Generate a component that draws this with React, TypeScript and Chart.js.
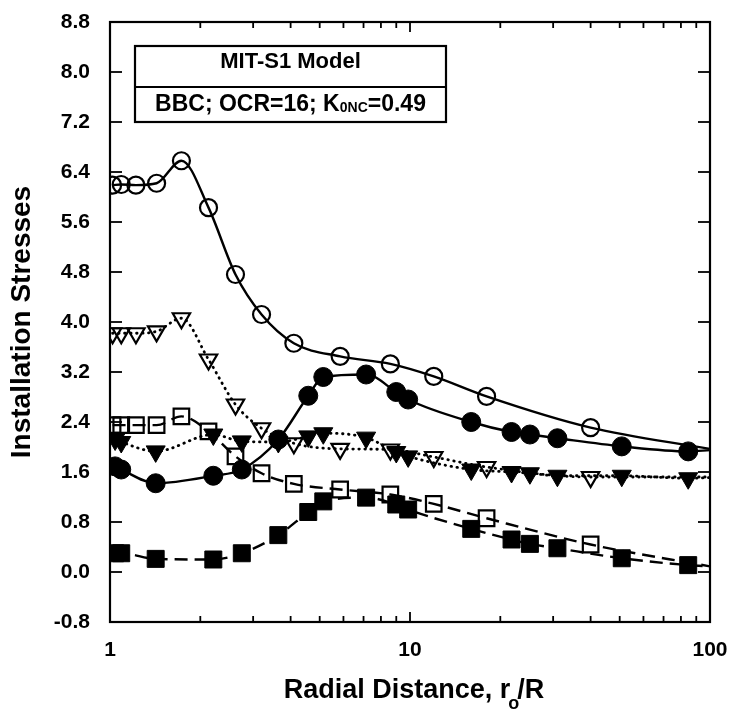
import React, { useEffect, useRef } from 'react';
import { Chart, registerables } from 'chart.js';

Chart.register(...registerables);

// ---- data ----
const openX = [1.02, 1.09, 1.22, 1.43, 1.73, 2.13, 2.62, 3.2, 4.1, 5.85, 8.6, 12, 18, 40];
const openCircleY = [6.19, 6.2, 6.19, 6.22, 6.58, 5.83, 4.76, 4.12, 3.66, 3.45, 3.33, 3.13, 2.81, 2.31];
const openTriangleY = [3.82, 3.82, 3.82, 3.85, 4.06, 3.4, 2.68, 2.3, 2.06, 1.97, 1.96, 1.84, 1.68, 1.52];
const openSquareY = [2.35, 2.35, 2.35, 2.35, 2.49, 2.25, 1.85, 1.58, 1.41, 1.32, 1.24, 1.09, 0.86, 0.44];

const filledX = [1.04, 1.09, 1.42, 2.21, 2.75, 3.64, 4.58, 5.14, 7.14, 9.0, 9.86, 16, 21.8, 25.1, 31, 50.8, 84.6];
const filledCircleY = [1.69, 1.64, 1.42, 1.54, 1.64, 2.12, 2.82, 3.12, 3.16, 2.88, 2.76, 2.4, 2.24, 2.2, 2.14, 2.01, 1.93];
const filledTriangleY = [2.12, 2.08, 1.93, 2.2, 2.09, 2.08, 2.17, 2.22, 2.15, 1.92, 1.85, 1.64, 1.6, 1.58, 1.54, 1.54, 1.5];
const filledSquareY = [0.3, 0.3, 0.21, 0.2, 0.3, 0.59, 0.96, 1.13, 1.19, 1.08, 1.0, 0.69, 0.52, 0.45, 0.38, 0.22, 0.11];

// curve end values at the right border (x = 100)
const curveEndX = 100;
const openCircleEnd = 1.97;
const filledCircleEnd = 1.95;
const openTriangleEnd = 1.52;
const filledTriangleEnd = 1.51;
const openSquareEnd = 0.09;
const filledSquareEnd = 0.09;

const yTickValues = [-0.8, 0, 0.8, 1.6, 2.4, 3.2, 4.0, 4.8, 5.6, 6.4, 7.2, 8.0, 8.8];
const xTickValues = [1, 2, 3, 4, 5, 6, 7, 8, 9, 10, 20, 30, 40, 50, 60, 70, 80, 90, 100];
const xLabelValues = [1, 10, 100];

const yTitle = 'Installation Stresses';
const xTitleMain = 'Radial Distance, r';
const xTitleSub = 'o';
const xTitleEnd = '/R';
const boxLine1 = 'MIT-S1 Model';
const boxLine2a = 'BBC; OCR=16; K';
const boxLine2Sub = '0NC';
const boxLine2b = '=0.49';

const FONT = '"Liberation Sans", Arial, Helvetica, sans-serif';

function pts(xs: number[], ys: number[]) {
  return xs.map((x, i) => ({ x, y: ys[i] }));
}

function curve(xs: number[], ys: number[], endY: number) {
  return [...pts(xs, ys), { x: curveEndX, y: endY }];
}

const decorPlugin = {
  id: 'decor',
  afterDraw(chart: any) {
    const { ctx, chartArea: a, scales } = chart;
    const xs = scales.x;
    const ys = scales.y;
    ctx.save();
    ctx.strokeStyle = '#000';
    ctx.fillStyle = '#000';
    const seg = (x1: number, y1: number, x2: number, y2: number) => {
      ctx.beginPath();
      ctx.moveTo(x1, y1);
      ctx.lineTo(x2, y2);
      ctx.stroke();
    };
    // frame
    ctx.lineWidth = 2.2;
    ctx.strokeRect(a.left, a.top, a.right - a.left, a.bottom - a.top);
    // ticks (inward)
    ctx.lineWidth = 1.8;
    xTickValues.forEach((v) => {
      const px = xs.getPixelForValue(v);
      const len = xLabelValues.includes(v) ? 10 : 6;
      seg(px, a.bottom, px, a.bottom - len);
      seg(px, a.top, px, a.top + len);
    });
    yTickValues.forEach((v) => {
      const py = ys.getPixelForValue(v);
      seg(a.left, py, a.left + 12, py);
      seg(a.right, py, a.right - 12, py);
    });

    // y title
    ctx.save();
    ctx.translate(22, (a.top + a.bottom) / 2);
    ctx.rotate(-Math.PI / 2);
    ctx.font = `bold 28px ${FONT}`;
    ctx.textAlign = 'center';
    ctx.textBaseline = 'middle';
    ctx.fillText(yTitle, 0, 0);
    ctx.restore();

    // x title with subscript
    const big = `bold 27px ${FONT}`;
    const small = `bold 18px ${FONT}`;
    ctx.textAlign = 'left';
    ctx.textBaseline = 'alphabetic';
    ctx.font = big;
    const w1 = ctx.measureText(xTitleMain).width;
    const w3 = ctx.measureText(xTitleEnd).width;
    ctx.font = small;
    const w2 = ctx.measureText(xTitleSub).width;
    const total = w1 + w2 + w3 - 4;
    const cx = (a.left + a.right) / 2 + 4;
    let tx = cx - total / 2;
    const base = a.bottom + 76;
    ctx.font = big;
    ctx.fillText(xTitleMain, tx, base);
    tx += w1 - 2;
    ctx.font = small;
    ctx.fillText(xTitleSub, tx, base + 11);
    tx += w2 - 2;
    ctx.font = big;
    ctx.fillText(xTitleEnd, tx, base);

    // annotation box
    const bl = a.left + 25;
    const br = a.left + 336;
    const bt = a.top + 24;
    const bm = a.top + 65;
    const bb = a.top + 100;
    ctx.lineWidth = 2.2;
    ctx.strokeRect(bl, bt, br - bl, bb - bt);
    seg(bl, bm, br, bm);
    const bcx = (bl + br) / 2;
    ctx.font = `bold 22px ${FONT}`;
    ctx.textAlign = 'center';
    ctx.fillText(boxLine1, bcx, bm - 19);
    ctx.textAlign = 'left';
    const f2 = `bold 23px ${FONT}`;
    const fs = `bold 14px ${FONT}`;
    ctx.font = f2;
    const a1 = ctx.measureText(boxLine2a).width;
    const a3 = ctx.measureText(boxLine2b).width;
    ctx.font = fs;
    const a2 = ctx.measureText(boxLine2Sub).width;
    let lx = bcx - (a1 + a2 + a3) / 2;
    const lb = bb - 11;
    ctx.font = f2;
    ctx.fillText(boxLine2a, lx, lb);
    lx += a1;
    ctx.font = fs;
    ctx.fillText(boxLine2Sub, lx, lb + 1);
    lx += a2;
    ctx.font = f2;
    ctx.fillText(boxLine2b, lx, lb);
    ctx.restore();
  },
};

export default function App() {
  const ref = useRef<HTMLCanvasElement | null>(null);
  useEffect(() => {
    if (!ref.current) return;
    const lineBase = {
      showLine: true,
      pointRadius: 0,
      pointHoverRadius: 0,
      borderColor: '#000',
      backgroundColor: '#000',
      fill: false,
      cubicInterpolationMode: 'monotone' as const,
    };
    const solid = { ...lineBase, borderWidth: 2.4 };
    const dotted = { ...lineBase, borderWidth: 2.8, borderDash: [0.5, 5.5], borderCapStyle: 'round' as const };
    const dashed = { ...lineBase, borderWidth: 2.4, borderDash: [13, 7] };
    const mark = (style: string, radius: number, filled: boolean, rot = 0) => ({
      showLine: false,
      pointStyle: style,
      pointRadius: radius,
      pointHoverRadius: radius,
      pointRotation: rot,
      pointBorderWidth: filled ? 1 : 2.2,
      pointBorderColor: '#000',
      pointBackgroundColor: filled ? '#000' : 'rgba(0,0,0,0)',
    });

    const chart = new Chart(ref.current, {
      type: 'scatter',
      data: {
        datasets: [
          { ...solid, data: curve(openX, openCircleY, openCircleEnd) },
          { ...solid, data: curve(filledX, filledCircleY, filledCircleEnd) },
          { ...dotted, data: curve(openX, openTriangleY, openTriangleEnd) },
          { ...dotted, data: curve(filledX, filledTriangleY, filledTriangleEnd) },
          { ...dashed, data: curve(openX, openSquareY, openSquareEnd) },
          { ...dashed, data: curve(filledX, filledSquareY, filledSquareEnd) },
          { ...mark('circle', 8.5, false), data: pts(openX, openCircleY) },
          { ...mark('circle', 9.5, true), data: pts(filledX, filledCircleY) },
          { ...mark('triangle', 10, false, 180), data: pts(openX, openTriangleY) },
          { ...mark('triangle', 11, true, 180), data: pts(filledX, filledTriangleY) },
          { ...mark('rect', 11, false), data: pts(openX, openSquareY) },
          { ...mark('rect', 12, true), data: pts(filledX, filledSquareY) },
        ] as any,
      },
      options: {
        animation: false,
        responsive: false,
        devicePixelRatio: 1,
        layout: { padding: { top: 22, right: 21, left: 0, bottom: 0 } },
        plugins: { legend: { display: false }, tooltip: { enabled: false }, title: { display: false } },
        events: [],
        scales: {
          x: {
            type: 'logarithmic',
            min: 1,
            max: 100,
            grid: { display: false },
            border: { display: false },
            afterBuildTicks: (s: any) => {
              s.ticks = xTickValues.map((v) => ({ value: v }));
            },
            afterFit: (s: any) => {
              s.height = 91;
              s.paddingLeft = 0;
              s.paddingRight = 0;
            },
            ticks: {
              autoSkip: false,
              maxRotation: 0,
              minRotation: 0,
              padding: 8,
              color: '#000',
              font: { family: FONT, size: 21, weight: 'bold' },
              callback: (v: any) => (xLabelValues.includes(Number(v)) ? String(v) : ''),
            },
          },
          y: {
            type: 'linear',
            min: -0.8,
            max: 8.8,
            grid: { display: false },
            border: { display: false },
            afterBuildTicks: (s: any) => {
              s.ticks = yTickValues.map((v) => ({ value: v }));
            },
            afterFit: (s: any) => {
              s.width = 110;
              s.paddingTop = 0;
              s.paddingBottom = 0;
            },
            ticks: {
              padding: 12,
              color: '#000',
              font: { family: FONT, size: 21, weight: 'bold' },
              callback: (v: any) => Number(v).toFixed(1),
            },
          },
        },
      },
      plugins: [decorPlugin],
    });
    return () => chart.destroy();
  }, []);

  return (
    <div style={{ position: 'fixed', left: 0, top: 0, width: 731, height: 713, background: '#fff' }}>
      <canvas ref={ref} width={731} height={713} />
    </div>
  );
}
